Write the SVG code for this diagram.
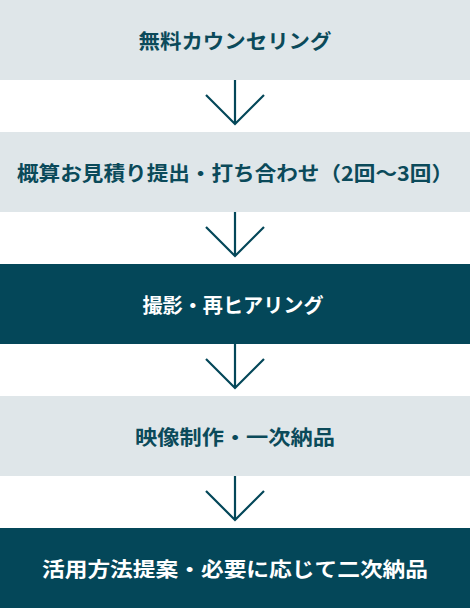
<svg xmlns="http://www.w3.org/2000/svg" width="470" height="608" viewBox="0 0 470 608">
<style>
.light{fill:#dfe6e9}
.dark{fill:#044759}
.t{font-family:"Noto Sans CJK JP","Noto Sans CJK SC",sans-serif;font-weight:bold;font-size:20px;text-anchor:middle;dominant-baseline:central}
.tl{fill:#0b4a5a}
.td{fill:#ffffff}
.arr{fill:none;stroke:#044759;stroke-width:2.2}
</style>
<rect width="470" height="608" fill="#ffffff"/>
<g id="step1"><rect class="light" x="0" y="0" width="470" height="80"/><text class="t tl" x="235" y="40" textLength="193" lengthAdjust="spacingAndGlyphs">無料カウンセリング</text></g>
<g id="step2"><rect class="light" x="0" y="132" width="470" height="80"/><text class="t tl" x="235" y="172" textLength="436" lengthAdjust="spacingAndGlyphs">概算お見積り提出・打ち合わせ（2回〜3回）</text></g>
<g id="step3"><rect class="dark" x="0" y="264" width="470" height="80"/><text class="t td" x="233" y="304" textLength="181" lengthAdjust="spacingAndGlyphs">撮影・再ヒアリング</text></g>
<g id="step4"><rect class="light" x="0" y="396" width="470" height="80"/><text class="t tl" x="235" y="436" textLength="200" lengthAdjust="spacingAndGlyphs">映像制作・一次納品</text></g>
<g id="step5"><rect class="dark" x="0" y="528" width="470" height="80"/><text class="t td" x="235" y="568" textLength="386" lengthAdjust="spacingAndGlyphs">活用方法提案・必要に応じて二次納品</text></g>
<g id="connectors">
<path class="arr" d="M235 80V123M206 95L235 124L264 95"/>
<path class="arr" d="M235 212V255M206 227L235 256L264 227"/>
<path class="arr" d="M235 344V387M206 359L235 388L264 359"/>
<path class="arr" d="M235 476V519M206 491L235 520L264 491"/>
</g>
</svg>
